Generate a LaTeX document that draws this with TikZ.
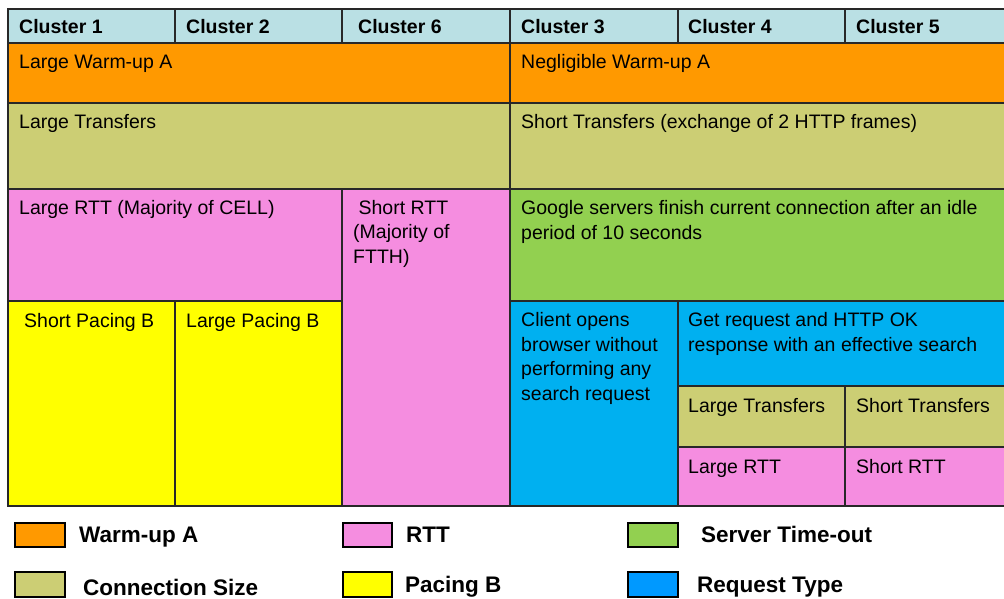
\documentclass[tikz,border=0pt]{standalone}
\usepackage{fontspec}
\setmainfont{Liberation Sans}
\usepackage{xcolor}
\usepackage{tikz}
\usetikzlibrary{positioning}
\definecolor{headC}{RGB}{186,224,228}
\definecolor{warmC}{RGB}{255,153,0}
\definecolor{sizeC}{RGB}{204,206,116}
\definecolor{rttC}{RGB}{245,141,224}
\definecolor{paceC}{RGB}{255,255,0}
\definecolor{idleC}{RGB}{146,208,80}
\definecolor{reqC}{RGB}{0,176,240}
\definecolor{reqL}{RGB}{0,153,255}
\definecolor{lineC}{RGB}{40,40,40}

\begin{document}
\begin{tikzpicture}[x=1pt, y=-1pt,
  cell/.style={draw=lineC, line width=1.5pt},
  swatch/.style={draw=black, line width=1.3pt},
  txt/.style={anchor=base west, align=left, inner sep=0pt, font=\fontsize{19.5}{24.5}\selectfont},
  head/.style={txt, font=\fontsize{19.5}{24.5}\selectfont\bfseries},
  leg/.style={anchor=base west, inner sep=0pt, font=\fontsize{22.5}{26}\selectfont\bfseries}]
  \useasboundingbox (0,0) rectangle (1004,598);
  % header row
  \draw[cell, fill=headC] (8,9) rectangle (175,43);
  \draw[cell, fill=headC] (175,9) rectangle (342,43);
  \draw[cell, fill=headC] (342,9) rectangle (510,43);
  \draw[cell, fill=headC] (510,9) rectangle (678,43);
  \draw[cell, fill=headC] (678,9) rectangle (845,43);
  \draw[cell, fill=headC] (845,9) rectangle (1012,43);
  \node[head] (c1) at (19,33)  {Cluster 1};
  \node[head] (c2) at (186,33) {Cluster 2};
  \node[head] (c6) at (358,33) {Cluster 6};
  \node[head] (c3) at (521,33) {Cluster 3};
  \node[head] (c4) at (688,33) {Cluster 4};
  \node[head] (c5) at (856,33) {Cluster 5};
  % warm-up and size
  \draw[cell, fill=warmC] (8,43) rectangle (510,103);
  \draw[cell, fill=warmC] (510,43) rectangle (1012,103);
  \draw[cell, fill=sizeC] (8,103) rectangle (510,189);
  \draw[cell, fill=sizeC] (510,103) rectangle (1012,189);
  \node[txt] (warmL) at (19,68)  {Large Warm-up A};
  \node[txt] (warmN) at (521,68) {Negligible Warm-up A};
  \node[txt] (sizeL) at (19,128)  {Large Transfers};
  \node[txt] (sizeS) at (521,128) {Short Transfers (exchange of 2 HTTP frames)};
  % left block (multi-line texts: y is the last baseline)
  \draw[cell, fill=rttC] (8,189) rectangle (342,301);
  \draw[cell, fill=rttC] (342,189) rectangle (510,506);
  \draw[cell, fill=paceC] (8,301) rectangle (175,506);
  \draw[cell, fill=paceC] (175,301) rectangle (342,506);
  \node[txt] (rttL) at (19,214) {Large RTT (Majority of CELL)};
  \node[txt] (rttS) at (353,263) {\ Short RTT\\(Majority of\\FTTH)};
  \node[txt] (paceS) at (24,327)  {Short Pacing B};
  \node[txt] (paceL) at (186,327) {Large Pacing B};
  % right block
  \draw[cell, fill=idleC] (510,189) rectangle (1012,301);
  \draw[cell, fill=reqC] (510,301) rectangle (678,506);
  \draw[cell, fill=reqC] (678,301) rectangle (1012,386);
  \draw[cell, fill=sizeC] (678,386) rectangle (845,447);
  \draw[cell, fill=sizeC] (845,386) rectangle (1012,447);
  \draw[cell, fill=rttC] (678,447) rectangle (845,506);
  \draw[cell, fill=rttC] (845,447) rectangle (1012,506);
  \node[txt] (idle) at (521,239) {Google servers finish current connection after an idle\\period of 10 seconds};
  \node[txt] (open) at (521,400) {Client opens\\browser without\\performing any\\search request};
  \node[txt] (get) at (688,351) {Get request and HTTP OK\\response with an effective search};
  \node[txt] (subL) at (688,412) {Large Transfers};
  \node[txt] (subS) at (856,412) {Short Transfers};
  \node[txt] (subRL) at (688,473) {Large RTT};
  \node[txt] (subRS) at (856,473) {Short RTT};
  % legend
  \draw[swatch, fill=warmC] (15,523) rectangle (65,547);
  \draw[swatch, fill=rttC]  (343,523) rectangle (392,547);
  \draw[swatch, fill=idleC] (628,523) rectangle (678,547);
  \draw[swatch, fill=sizeC] (15,572) rectangle (65,597);
  \draw[swatch, fill=paceC] (343,572) rectangle (392,597);
  \draw[swatch, fill=reqL]  (628,572) rectangle (678,597);
  \node[leg] (lwarm) at (79,542)  {Warm-up A};
  \node[leg] (lrtt)  at (406,542) {RTT};
  \node[leg] (lidle) at (701,542) {Server Time-out};
  \node[leg] (lsize) at (83,595)  {Connection Size};
  \node[leg] (lpace) at (405,592) {Pacing B};
  \node[leg] (lreq)  at (697,592) {Request Type};
\end{tikzpicture}
\end{document}
